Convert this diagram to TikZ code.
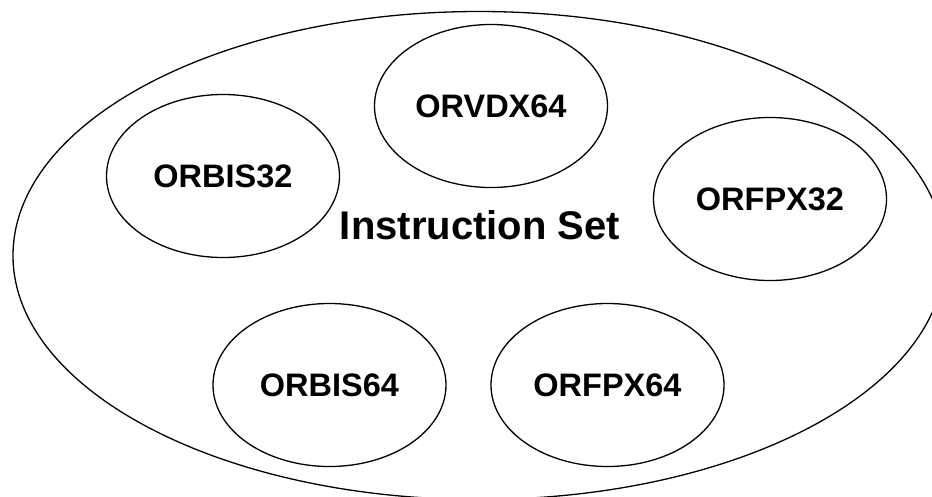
\documentclass[tikz,border=0pt]{standalone}
\usepackage{fontspec}
\setmainfont{Liberation Sans}
\usetikzlibrary{shapes.geometric}
\begin{document}
\begin{tikzpicture}[x=1pt,y=-1pt,
  outline/.style={draw=black, line width=1.3pt, ellipse, inner sep=0pt},
  isa/.style={outline, minimum width=233pt, minimum height=163pt},
  isalabel/.style={font=\bfseries\fontsize{32.5}{38}\selectfont, inner sep=0pt},
  titlelabel/.style={font=\bfseries\fontsize{40}{46}\selectfont, inner sep=0pt}]
\useasboundingbox (0,0) rectangle (932,496);
\clip (0,0) rectangle (932,496);
\node[outline, minimum width=932pt, minimum height=488pt] (iset) at (479,255.5) {};
\node[titlelabel] (title) at (480,225) {Instruction Set};
\node[isa] (orvdx64) at (491,106) {};
\node[isalabel] at (orvdx64) {ORVDX64};
\node[isa] (orbis32) at (223,176) {};
\node[isalabel] at (orbis32) {ORBIS32};
\node[isa] (orfpx32) at (770,199) {};
\node[isalabel] at (orfpx32) {ORFPX32};
\node[isa] (orbis64) at (329.5,385) {};
\node[isalabel] at (orbis64) {ORBIS64};
\node[isa] (orfpx64) at (607.5,385) {};
\node[isalabel] at (orfpx64) {ORFPX64};
\end{tikzpicture}
\end{document}
